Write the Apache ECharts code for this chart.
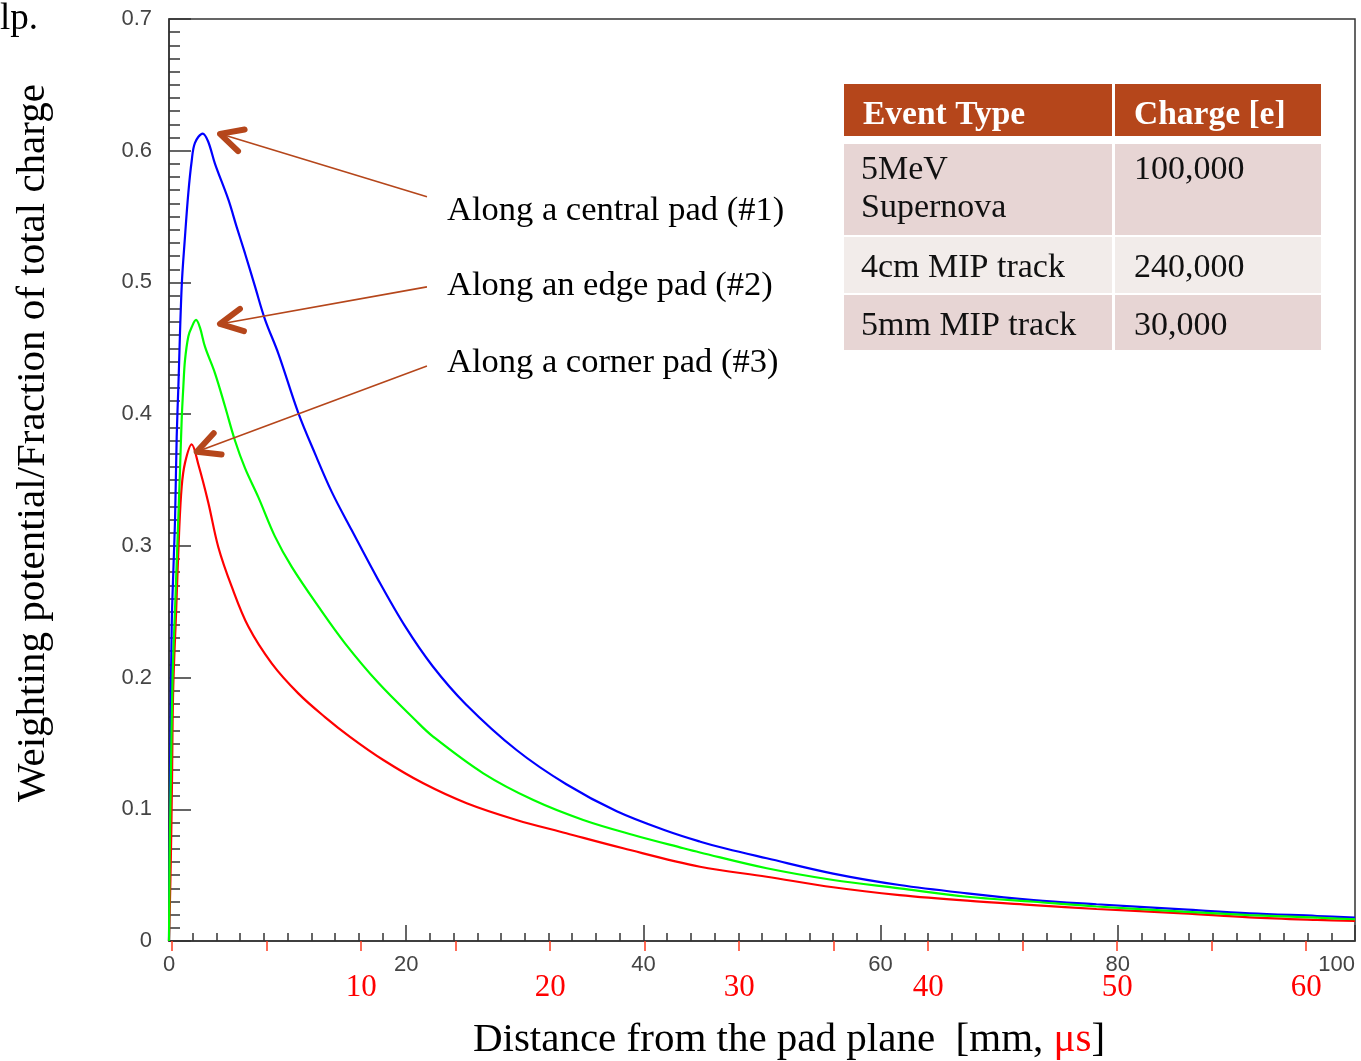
<!DOCTYPE html>
<html>
<head>
<meta charset="utf-8">
<script src="https://cdn.jsdelivr.net/npm/echarts@6/dist/echarts.min.js"></script>
<style>
  html, body { margin: 0; padding: 0; background: #fff; }
  #chart { width: 1361px; height: 1061px; }
</style>
</head>
<body>
<div id="chart"></div>
<script>
// distance from pad plane [mm] and weighting potential
const centralX = [0, 0.08, 0.12, 0.23, 0.4, 0.51, 0.65, 0.79, 1.07, 1.35, 1.63, 1.91, 2.19, 2.84, 3.3, 3.88, 5.0, 5.71, 6.41, 7.25, 8.09, 9.22, 10.9, 12.31, 13.72, 15.4, 17.65, 19.9, 22.2, 25.0, 29.3, 33.5, 37.75, 42.0, 44.8, 47.0, 50.4, 56.0, 61.6, 67.3, 72.9, 78.2, 85.5, 91.1, 96.8, 100]
const centralY = [0, 0.09, 0.15, 0.24, 0.29, 0.32, 0.383, 0.421, 0.497, 0.535, 0.568, 0.592, 0.606, 0.613, 0.607, 0.59, 0.563, 0.542, 0.522, 0.497, 0.472, 0.446, 0.401, 0.37, 0.341, 0.312, 0.274, 0.239, 0.209, 0.18, 0.145, 0.119, 0.0985, 0.0835, 0.0754, 0.07, 0.0628, 0.0512, 0.0425, 0.0362, 0.0311, 0.0279, 0.024, 0.021, 0.019, 0.0177]

const edgeX = [0, 0.05, 0.15, 0.3, 0.5, 0.7, 0.93, 1.07, 1.21, 1.35, 1.63, 1.91, 2.28, 2.6, 3.04, 3.88, 4.72, 5.56, 6.41, 7.53, 8.94, 10.35, 12.59, 14.84, 17.65, 20.74, 22.29, 26.5, 30.72, 34.93, 39.15, 43.37, 44.77, 50.4, 56.0, 61.6, 67.3, 72.9, 78.2, 85.5, 91.1, 96.8, 100]
const edgeY = [0, 0.06, 0.12, 0.2, 0.25, 0.3, 0.358, 0.396, 0.421, 0.441, 0.459, 0.466, 0.4715, 0.466, 0.451, 0.431, 0.406, 0.38, 0.359, 0.337, 0.307, 0.284, 0.254, 0.226, 0.196, 0.168, 0.155, 0.1273, 0.107, 0.0919, 0.0805, 0.0704, 0.0672, 0.0552, 0.0463, 0.04, 0.0336, 0.0298, 0.0262, 0.0223, 0.0197, 0.0177, 0.0165]

const cornerX = [0, 0.15, 0.25, 0.35, 0.6, 0.85, 1.07, 1.35, 1.91, 2.47, 3.31, 4.16, 5.29, 6.69, 8.66, 10.9, 13.15, 15.26, 18.07, 21.44, 25.1, 29.3, 33.5, 38.3, 44.77, 50.4, 56.0, 61.6, 67.3, 72.9, 78.2, 85.5, 91.1, 96.8, 100]
const cornerY = [0, 0.06, 0.12, 0.19, 0.25, 0.31, 0.345, 0.363, 0.377, 0.362, 0.333, 0.299, 0.269, 0.2387, 0.2108, 0.188, 0.17, 0.155, 0.1374, 0.1197, 0.1046, 0.0919, 0.0818, 0.0704, 0.0564, 0.0488, 0.0408, 0.0349, 0.0306, 0.0273, 0.0243, 0.021, 0.018, 0.016, 0.0152]

// drift time axis [us]
const timeTicks = [0, 5, 10, 15, 20, 25, 30, 35, 40, 45, 50, 55, 60]
const timeLabels = [10, 20, 30, 40, 50, 60]

const padLabels = ['Along a central pad (#1)', 'Along an edge pad (#2)', 'Along a corner pad (#3)']
const arrowHeads = [[4.3, 0.6128], [4.3, 0.4685], [2.34, 0.3715]]
const arrowTails = [[21.75, 0.565], [21.75, 0.4966], [21.75, 0.4366]]

const tableHead = ['Event Type', 'Charge [e]']
const tableEvents = ['5MeV\nSupernova', '4cm MIP track', '5mm MIP track']
const tableCharges = ['100,000', '240,000', '30,000']

const SERIF = '"Liberation Serif", "DejaVu Serif", serif'
const SANS = '"Liberation Sans", "DejaVu Sans", sans-serif'
const BROWN = '#b5461b'

const zip = (xs, ys) => xs.map((x, i) => [x, ys[i]])

const chart = echarts.init(document.getElementById('chart'))

const curve = (name, xs, ys, color, z) => ({
  name: name, type: 'line', data: zip(xs, ys), showSymbol: false,
  smooth: 0.35,
  lineStyle: { color: color, width: 2.2 }, z: z
})

chart.setOption({
  animation: false,
  backgroundColor: '#fff',
  grid: {
    left: 169, right: 6, top: 19, bottom: 120,
    show: true, borderColor: '#333', borderWidth: 1.5
  },
  xAxis: [{
    type: 'value', min: 0, max: 100, interval: 20, position: 'bottom',
    axisLine: { lineStyle: { color: '#333', width: 1.5 } },
    axisTick: { inside: true, length: 16, lineStyle: { color: '#333', width: 1.5 } },
    minorTick: { show: true, splitNumber: 10, length: 8, lineStyle: { color: '#333', width: 1.5 } },
    axisLabel: { color: '#444', fontFamily: SANS, fontSize: 22, margin: 13, alignMaxLabel: 'right' },
    splitLine: { show: false }
  }, {
    type: 'value', min: -0.17, max: 62.58, position: 'bottom', offset: 0,
    axisLine: { show: false },
    axisTick: { show: true, customValues: timeTicks, length: 10, lineStyle: { color: '#ff3b1f', width: 1.5 } },
    axisLabel: { customValues: timeLabels, color: '#ff0000', fontFamily: SERIF, fontSize: 31, margin: 31 },
    splitLine: { show: false }
  }],
  yAxis: {
    type: 'value', min: 0, max: 0.7, interval: 0.1,
    axisLine: { show: true, lineStyle: { color: '#333', width: 1.5 } },
    axisTick: { show: true, inside: true, length: 22, lineStyle: { color: '#333', width: 1.5 } },
    minorTick: { show: true, splitNumber: 10, length: 11, lineStyle: { color: '#333', width: 1.5 } },
    axisLabel: { color: '#444', fontFamily: SANS, fontSize: 22, margin: 17 },
    splitLine: { show: false }
  },
  series: [
    curve('central', centralX, centralY, '#0000ff', 3),
    curve('corner', cornerX, cornerY, '#ff0000', 4),
    curve('edge', edgeX, edgeY, '#00ff00', 5)
  ]
})

// arrows, pad labels, table and axis titles
const graphics = []
const toPx = p => chart.convertToPixel({ xAxisIndex: 0, yAxisIndex: 0 }, p)

arrowHeads.forEach((h, i) => {
  const head = toPx(h)
  const tail = toPx(arrowTails[i])
  const ang = Math.atan2(tail[1] - head[1], tail[0] - head[0])
  const arm = (a) => [head[0] + 25 * Math.cos(ang + a), head[1] + 25 * Math.sin(ang + a)]
  graphics.push({
    type: 'line', z: 20,
    shape: { x1: tail[0], y1: tail[1], x2: head[0], y2: head[1] },
    style: { stroke: BROWN, lineWidth: 1.6 }
  })
  graphics.push({
    type: 'polyline', z: 20,
    shape: { points: [arm(-0.47), head, arm(0.47)] },
    style: { stroke: BROWN, lineWidth: 6, lineCap: 'round', lineJoin: 'round', fill: null }
  })
})

const labelY = [211, 286, 363]
padLabels.forEach((t, i) => {
  graphics.push({
    type: 'text', x: 447, y: labelY[i], z: 20,
    style: { text: t, font: '34.5px ' + SERIF, fill: '#000', verticalAlign: 'middle' }
  })
})

// table
const colX = [844, 1115]
const colW = [268, 206]
const rowY = [84, 144, 237, 295]
const rowH = [52, 91, 56, 55]
const rowFill = [BROWN, '#e7d5d4', '#f2ecea', '#e7d5d4']
rowY.forEach((y, r) => {
  colX.forEach((x, c) => {
    graphics.push({
      type: 'rect', z: 10,
      shape: { x: x, y: y, width: colW[c], height: rowH[r] },
      style: { fill: rowFill[r] }
    })
  })
})
tableHead.forEach((t, c) => {
  graphics.push({
    type: 'text', x: colX[c] + 19, y: 115, z: 11,
    style: { text: t, font: 'bold 33.5px ' + SERIF, fill: '#fff', verticalAlign: 'middle' }
  })
})
const textRowY = [151, 268, 326]
tableEvents.forEach((t, r) => {
  const multi = t.indexOf('\n') >= 0
  graphics.push({
    type: 'text', x: 861, y: textRowY[r], z: 11,
    style: { text: t, font: '34px ' + SERIF, fill: '#111', lineHeight: 38,
      verticalAlign: multi ? 'top' : 'middle' }
  })
  graphics.push({
    type: 'text', x: 1134, y: textRowY[r], z: 11,
    style: { text: tableCharges[r], font: '34px ' + SERIF, fill: '#111', lineHeight: 38,
      verticalAlign: multi ? 'top' : 'middle' }
  })
})

// axis titles
graphics.push({
  type: 'text', x: 33, y: 443, rotation: Math.PI / 2, z: 20,
  style: { text: 'Weighting potential/Fraction of total charge', font: '41px ' + SERIF,
    fill: '#000', align: 'center', verticalAlign: 'middle' }
})
graphics.push({
  type: 'text', x: 789, y: 1040, z: 20,
  style: {
    text: '{a|Distance from the pad plane  [mm, }{b|μs}{a|]}',
    align: 'center', verticalAlign: 'middle',
    rich: {
      a: { font: '41px ' + SERIF, fill: '#000' },
      b: { font: '41px ' + SERIF, fill: '#ff0000' }
    }
  }
})
graphics.push({
  type: 'text', x: 0, y: 19, z: 20,
  style: { text: 'lp.', font: '37px ' + SERIF, fill: '#000', verticalAlign: 'middle' }
})

chart.setOption({ graphic: graphics })
</script>
</body>
</html>
